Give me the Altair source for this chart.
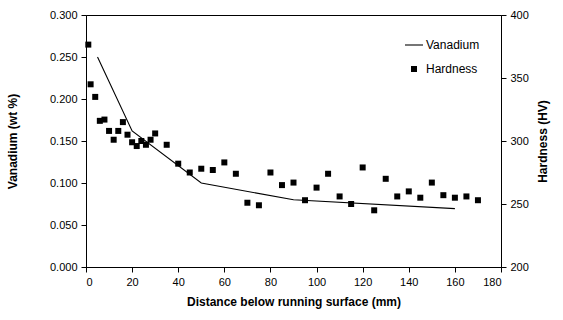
import altair as alt
import pandas as pd

# Hardness measurements (HV) vs distance below running surface (mm)
hard_x = [1, 2, 4, 6, 8, 10, 12, 14, 16, 18, 20, 22, 24, 26, 28, 30,
          35, 40, 45, 50, 55, 60, 65,
          70, 75, 80, 85, 90, 95, 100, 105, 110, 115, 120, 125, 130, 135,
          140, 145, 150, 155, 160, 165, 170]
hard_y = [376.5, 345, 335, 316, 317, 308, 301, 308, 315, 305, 299, 296, 300, 297, 301, 306,
          297, 282, 275, 278, 277, 283, 274,
          251, 249, 275, 265, 267, 253, 263, 274, 256, 250, 279, 245, 270, 256,
          260, 255, 267, 257, 255, 256, 253]

# Vanadium content (wt %) vs distance (mm)
van_x = [5, 20, 50, 90, 160]
van_y = [0.250, 0.162, 0.100, 0.080, 0.0695]

series_names = ["Vanadium", "Hardness"]
x_ticks = [0, 20, 40, 60, 80, 100, 120, 140, 160, 180]
v_ticks = [0.0, 0.05, 0.10, 0.15, 0.20, 0.25, 0.30]
h_ticks = [200, 250, 300, 350, 400]

vdf = pd.DataFrame({"x": van_x, "v": van_y})
hdf = pd.DataFrame({"x": hard_x, "h": hard_y, "series": ["Hardness"] * len(hard_x)})

FONT = "Liberation Sans"

xenc = alt.X("x:Q", scale=alt.Scale(domain=[0, 180], nice=False),
             axis=alt.Axis(values=x_ticks, title="Distance below running surface (mm)",
                           titlePadding=9))

line = alt.Chart(vdf).mark_line(color="black", strokeWidth=1.1).encode(
    x=xenc,
    y=alt.Y("v:Q", scale=alt.Scale(domain=[0, 0.3], nice=False),
            axis=alt.Axis(orient="left", values=v_ticks, format=".3f",
                          title="Vanadium (wt %)", titlePadding=30)),
)

line_shape = "M-1,-0.06H1V0.06H-1Z"

legend_cfg = dict(title=None, orient="none", legendX=319, legendY=21,
                  labelFontSize=12, labelFont=FONT, labelOffset=3,
                  rowPadding=12, padding=0)

points = alt.Chart(hdf).mark_point(filled=True, color="black", opacity=1).encode(
    x=alt.X("x:Q"),
    y=alt.Y("h:Q", scale=alt.Scale(domain=[200, 400], nice=False),
            axis=alt.Axis(orient="right", values=h_ticks, title="Hardness (HV)",
                          titleAngle=270, titlePadding=21)),
    shape=alt.Shape("series:N",
                    scale=alt.Scale(domain=series_names, range=[line_shape, "square"]),
                    legend=alt.Legend(**legend_cfg)),
    size=alt.Size("series:N",
                  scale=alt.Scale(domain=series_names, range=[324, 36]),
                  legend=alt.Legend(**legend_cfg)),
)

chart = alt.layer(line, points).resolve_scale(y="independent").properties(
    width=415, height=252,
    autosize=alt.AutoSizeParams(type="none"),
    padding={"left": 86, "top": 15, "right": 62, "bottom": 53},
    background="white",
).configure_view(stroke="black", strokeWidth=1).configure_axis(
    grid=False,
    domainColor="black", domainWidth=1,
    tickColor="black", tickWidth=1, tickSize=5,
    labelColor="black", labelFont=FONT, labelFontSize=11, labelPadding=4,
    titleColor="black", titleFont=FONT, titleFontSize=12, titleFontWeight="bold",
).configure_legend(
    symbolFillColor="black", symbolStrokeColor="black", symbolStrokeWidth=0,
    labelColor="black",
)

chart.save("out.html", embed_options={"renderer": "svg", "actions": False})
